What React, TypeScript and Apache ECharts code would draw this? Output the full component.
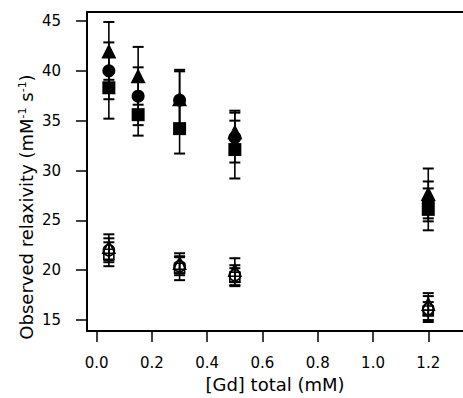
import React, { useEffect, useRef } from "react";
import * as echarts from "echarts";

const xTicks = [0, 0.2, 0.4, 0.6, 0.8, 1.0, 1.2];
const yTicks = [15, 20, 25, 30, 35, 40, 45];

const xFilled = [0.044, 0.15, 0.3, 0.5, 1.2];
const triFilled = [42.0, 39.5, 37.2, 33.9, 27.7];
const triFilledErr = [2.9, 2.9, 2.9, 2.1, 2.5];
const cirFilled = [40.0, 37.45, 37.05, 33.3, 26.9];
const cirFilledErr = [2.85, 2.9, 2.9, 2.5, 2.0];
const sqFilled = [38.3, 35.6, 34.2, 32.1, 26.1];
const sqFilledErr = [3.1, 2.1, 2.5, 2.9, 2.1];

const xOpen = [0.044, 0.3, 0.5, 1.2];
const triOpen = [22.3, 20.7, 20.0, 16.6];
const triOpenErr = [1.3, 1.0, 1.2, 1.1];
const cirOpen = [22.0, 20.4, 19.5, 16.1];
const cirOpenErr = [1.2, 0.9, 1.0, 1.3];
const sqOpen = [21.6, 20.2, 19.3, 15.9];
const sqOpenErr = [1.2, 1.2, 0.9, 0.9];

const FONT = "DejaVu Sans";

function pts(xs: number[], ys: number[]) {
  return xs.map((x, i) => [x, ys[i]]);
}
function errs(xs: number[], ys: number[], es: number[]) {
  return xs.map((x, i) => [x, ys[i] - es[i], ys[i] + es[i]]);
}

function errSeries(data: number[][]) {
  return {
    type: "custom",
    z: 2,
    data,
    encode: { x: 0, y: [1, 2] },
    renderItem: (params: any, api: any) => {
      const x = api.value(0);
      const lo = api.coord([x, api.value(1)]);
      const hi = api.coord([x, api.value(2)]);
      const hw = 5.5;
      const st = { stroke: "#000", lineWidth: 1.6 };
      return {
        type: "group",
        children: [
          { type: "line", shape: { x1: lo[0], y1: lo[1], x2: hi[0], y2: hi[1] }, style: st },
          { type: "line", shape: { x1: lo[0] - hw, y1: lo[1], x2: lo[0] + hw, y2: lo[1] }, style: { stroke: "#000", lineWidth: 2 } },
          { type: "line", shape: { x1: hi[0] - hw, y1: hi[1], x2: hi[0] + hw, y2: hi[1] }, style: { stroke: "#000", lineWidth: 2 } },
        ],
      };
    },
  };
}

function filledSeries(data: number[][], symbol: string, size: number) {
  return {
    type: "scatter",
    z: 3,
    data,
    symbol,
    symbolSize: size,
    itemStyle: { color: "#000", opacity: 1 },
  };
}

function openSeries(data: number[][], symbol: string, size: number) {
  return {
    type: "scatter",
    z: 3,
    data,
    symbol,
    symbolSize: size,
    itemStyle: { color: "rgba(0,0,0,0)", borderColor: "#000", borderWidth: 1.6, opacity: 1 },
  };
}

export default function App() {
  const ref = useRef<HTMLDivElement>(null);
  useEffect(() => {
    if (!ref.current) return;
    const chart = echarts.init(ref.current, null, { renderer: "svg" });
    const xMin = -0.0351;
    const xMax = 1.3257;
    const yMin = 13.9;
    const yMax = 45.9;
    chart.setOption({
      animation: false,
      textStyle: { fontFamily: FONT },
      grid: { left: 87, top: 12, right: 0, bottom: 61, containLabel: false },
      xAxis: [
        {
          type: "value",
          position: "bottom",
          min: xMin,
          max: xMax,
          name: "[Gd] total (mM)",
          nameLocation: "middle",
          nameGap: 44,
          nameTextStyle: { fontFamily: FONT, fontSize: 18, color: "#000" },
          axisLine: { show: true, onZero: false, lineStyle: { color: "#000", width: 2 } },
          axisTick: { show: true, inside: false, length: 11, customValues: xTicks, lineStyle: { color: "#000", width: 1.5 } },
          axisLabel: {
            customValues: xTicks,
            margin: 24,
            fontFamily: FONT,
            fontSize: 15,
            color: "#000",
            formatter: (v: number) => v.toFixed(1),
          },
          splitLine: { show: false },
        },
        {
          type: "value",
          position: "top",
          min: xMin,
          max: xMax,
          axisLine: { show: true, onZero: false, lineStyle: { color: "#000", width: 2 } },
          axisTick: { show: false },
          axisLabel: { show: false },
          splitLine: { show: false },
        },
      ],
      yAxis: {
        type: "value",
        min: yMin,
        max: yMax,
        axisLine: { show: true, onZero: false, lineStyle: { color: "#000", width: 2 } },
        axisTick: { show: true, inside: false, length: 11, customValues: yTicks, lineStyle: { color: "#000", width: 1.5 } },
        axisLabel: {
          customValues: yTicks,
          margin: 26,
          fontFamily: FONT,
          fontSize: 15,
          color: "#000",
        },
        splitLine: { show: false },
      },
      graphic: [
        {
          type: "text",
          x: 26,
          y: 207,
          rotation: Math.PI / 2,
          style: {
            text: "Observed relaxivity (mM{s|-1} s{s|-1})",
            fontFamily: FONT,
            fontSize: 18,
            fill: "#000",
            align: "center",
            verticalAlign: "middle",
            rich: {
              s: { fontSize: 11, fontFamily: FONT, fill: "#000", verticalAlign: "top", padding: [0, 0, 7, 0] },
            },
          },
        },
      ],
      series: [
        errSeries(errs(xFilled, triFilled, triFilledErr)),
        errSeries(errs(xFilled, cirFilled, cirFilledErr)),
        errSeries(errs(xFilled, sqFilled, sqFilledErr)),
        errSeries(errs(xOpen, triOpen, triOpenErr)),
        errSeries(errs(xOpen, cirOpen, cirOpenErr)),
        errSeries(errs(xOpen, sqOpen, sqOpenErr)),
        filledSeries(pts(xFilled, triFilled), "triangle", 15),
        filledSeries(pts(xFilled, cirFilled), "circle", 13),
        filledSeries(pts(xFilled, sqFilled), "rect", 13),
        openSeries(pts(xOpen, triOpen), "triangle", 12),
        openSeries(pts(xOpen, cirOpen), "circle", 11),
        openSeries(pts(xOpen, sqOpen), "rect", 10),
      ],
    });
    return () => chart.dispose();
  }, []);
  return <div ref={ref} style={{ position: "absolute", left: 0, top: 0, width: 463, height: 398 }} />;
}
